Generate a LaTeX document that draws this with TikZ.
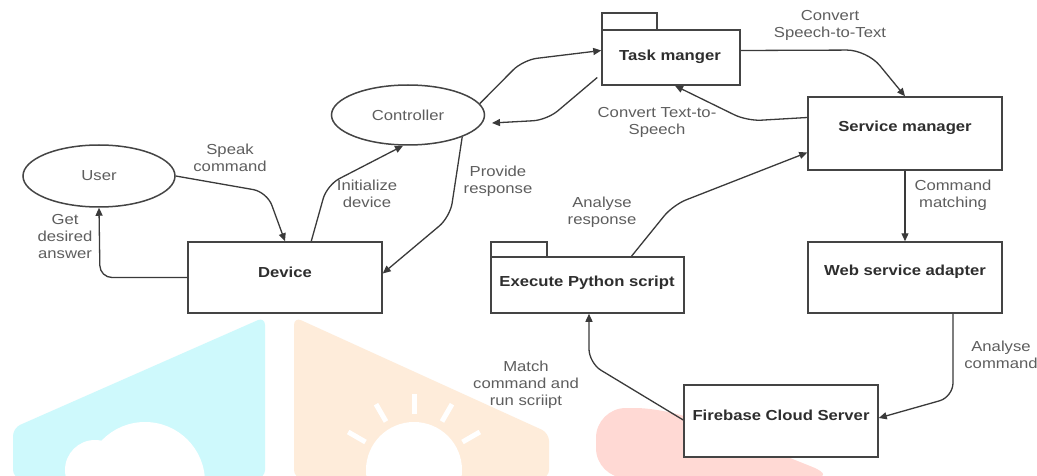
\documentclass[tikz,border=0pt]{standalone}
\usepackage{fontspec}
\setmainfont{Liberation Sans}[FakeStretch=1.15]
\usetikzlibrary{arrows.meta,calc,shapes.geometric}
\definecolor{ln}{HTML}{3A3A3A}
\definecolor{bx}{HTML}{444444}
\definecolor{lg}{HTML}{5E5E5E}
\definecolor{bt}{HTML}{2E2E2E}
\definecolor{wcyan}{RGB}{206,249,252}
\definecolor{worange}{RGB}{254,236,218}
\definecolor{wred}{RGB}{255,217,212}
\tikzset{
  boxnode/.style={draw=bx, line width=1.5pt, fill=white, inner sep=0pt},
  tabnode/.style={draw=bx, line width=1.5pt, fill=white, inner sep=0pt},
  ellnode/.style={ellipse, draw=bx, line width=1.5pt, fill=white, inner sep=0pt, text=lg, font=\fontsize{14.5}{17}\selectfont},
  lbl/.style={text=lg, align=center, inner sep=0pt, font=\fontsize{14.5}{17}\selectfont},
  btxt/.style={text=bt, inner sep=0pt, font=\bfseries\fontsize{14.5}{17}\selectfont},
  arr/.style={draw=ln, line width=1.3pt, -{Triangle[length=8pt,width=7pt]}, rounded corners=14pt},
}
\begin{document}
\begin{tikzpicture}[x=1pt,y=-1pt]
\useasboundingbox[fill=white] (0,0) rectangle (1037,476);
% watermark shapes
\fill[wcyan, rounded corners=8pt] (265,478) -- (265,317) -- (13,428) -- (13,478) -- cycle;
\fill[white] (145,482) circle (60);
\fill[white] (95,470) circle (30);
\fill[worange, rounded corners=8pt] (294,478) -- (294,317) -- (549,433) -- (549,478) -- cycle;
\fill[white] (414,470) circle (48);
\foreach \a in {-60,-30,0,30,60}{
  \draw[white, line width=5pt] ($(414,470)+(90+\a:-56)$) -- ($(414,470)+(90+\a:-76)$);
}
\fill[wred, rounded corners=30pt] (596,478) -- (596,408) -- (665,408) -- (840,478) -- cycle;

% nodes
\node[tabnode, minimum width=55, minimum height=17] (tasktab) at (629.5,21.5) {};
\node[tabnode, minimum width=56, minimum height=15] (exectab) at (519,249.5) {};
\node[ellnode, minimum width=152, minimum height=62] (user) at (99,176) {User};
\node[ellnode, minimum width=153, minimum height=60] (ctrl) at (408,115) {Controller};
\node[boxnode, minimum width=194, minimum height=71] (device) at (285,277.5) {};
\node[boxnode, minimum width=138, minimum height=55] (task) at (671,57.5) {};
\node[boxnode, minimum width=194, minimum height=73] (service) at (905,133.5) {};
\node[boxnode, minimum width=193, minimum height=56] (exec) at (587.5,285) {};
\node[boxnode, minimum width=194, minimum height=71] (web) at (905,277.5) {};
\node[boxnode, minimum width=194, minimum height=72] (fire) at (781,421) {};

\node[btxt] (devicet) at (285,272) {Device};
\node[btxt] (taskt) at (670,57) {Task manger};
\node[btxt] (servicet) at (905,128) {Service manager};
\node[btxt] (exect) at (587,283) {Execute Python script};
\node[btxt] (webt) at (905,272) {Web service adapter};
\node[btxt] (firet) at (781,415) {Firebase Cloud Server};

% labels
\node[lbl] (l1) at (230,158) {Speak\\command};
\node[lbl] (l2) at (65,237) {Get\\desired\\answer};
\node[lbl] (l3) at (367,194) {Initialize\\device};
\node[lbl] (l4) at (498,181) {Provide\\response};
\node[lbl] (l5) at (830,25) {Convert\\Speech-to-Text};
\node[lbl] (l6) at (657,122) {Convert Text-to-\\Speech};
\node[lbl] (l7) at (953,195) {Command\\matching};
\node[lbl] (l8) at (602,212) {Analyse\\response};
\node[lbl] (l9) at (526,385) {Match\\command and\\run scriipt};
\node[lbl] (l10) at (1001,355) {Analyse\\command};

\coordinate (ctrlin) at (492,123);

% connectors
\draw[arr] (user.east) -- (267,192) -- (device.north);
\draw[arr, rounded corners=12pt] (device.west) -- (100,277.5) -- (user.south);
\draw[arr] ($(device.north west)+(124,0)$) -- (327,185) -- ([xshift=-5pt]ctrl.south);
\draw[arr] (ctrl.-22) -- (450,217) -- ([yshift=4pt]device.east);
\draw[arr] (ctrl.9) -- (523,60) -- ([yshift=7pt]task.west);
\draw[arr] ([xshift=-4pt,yshift=-20pt]task.west) -- (547,120) -- (ctrlin);
\draw[arr, rounded corners=20pt] ([yshift=7pt]task.east) -- (867,50) -- (service.north);
\draw[arr] ([yshift=16pt]service.west) -- (747,121) -- ([xshift=4pt]task.south);
\draw[arr] (service.south) -- (web.north);
\draw[arr] ($(web.south)+(48,0)$) -- (953,397) -- ([yshift=3pt]fire.east);
\draw[arr] ([yshift=1pt]fire.west) -- (589,363) -- ([xshift=1.5pt]exec.south);
\draw[arr] ($(exec.north)+(44,0)$) -- (673,205) -- ([yshift=-19pt]service.west);
\end{tikzpicture}
\end{document}
